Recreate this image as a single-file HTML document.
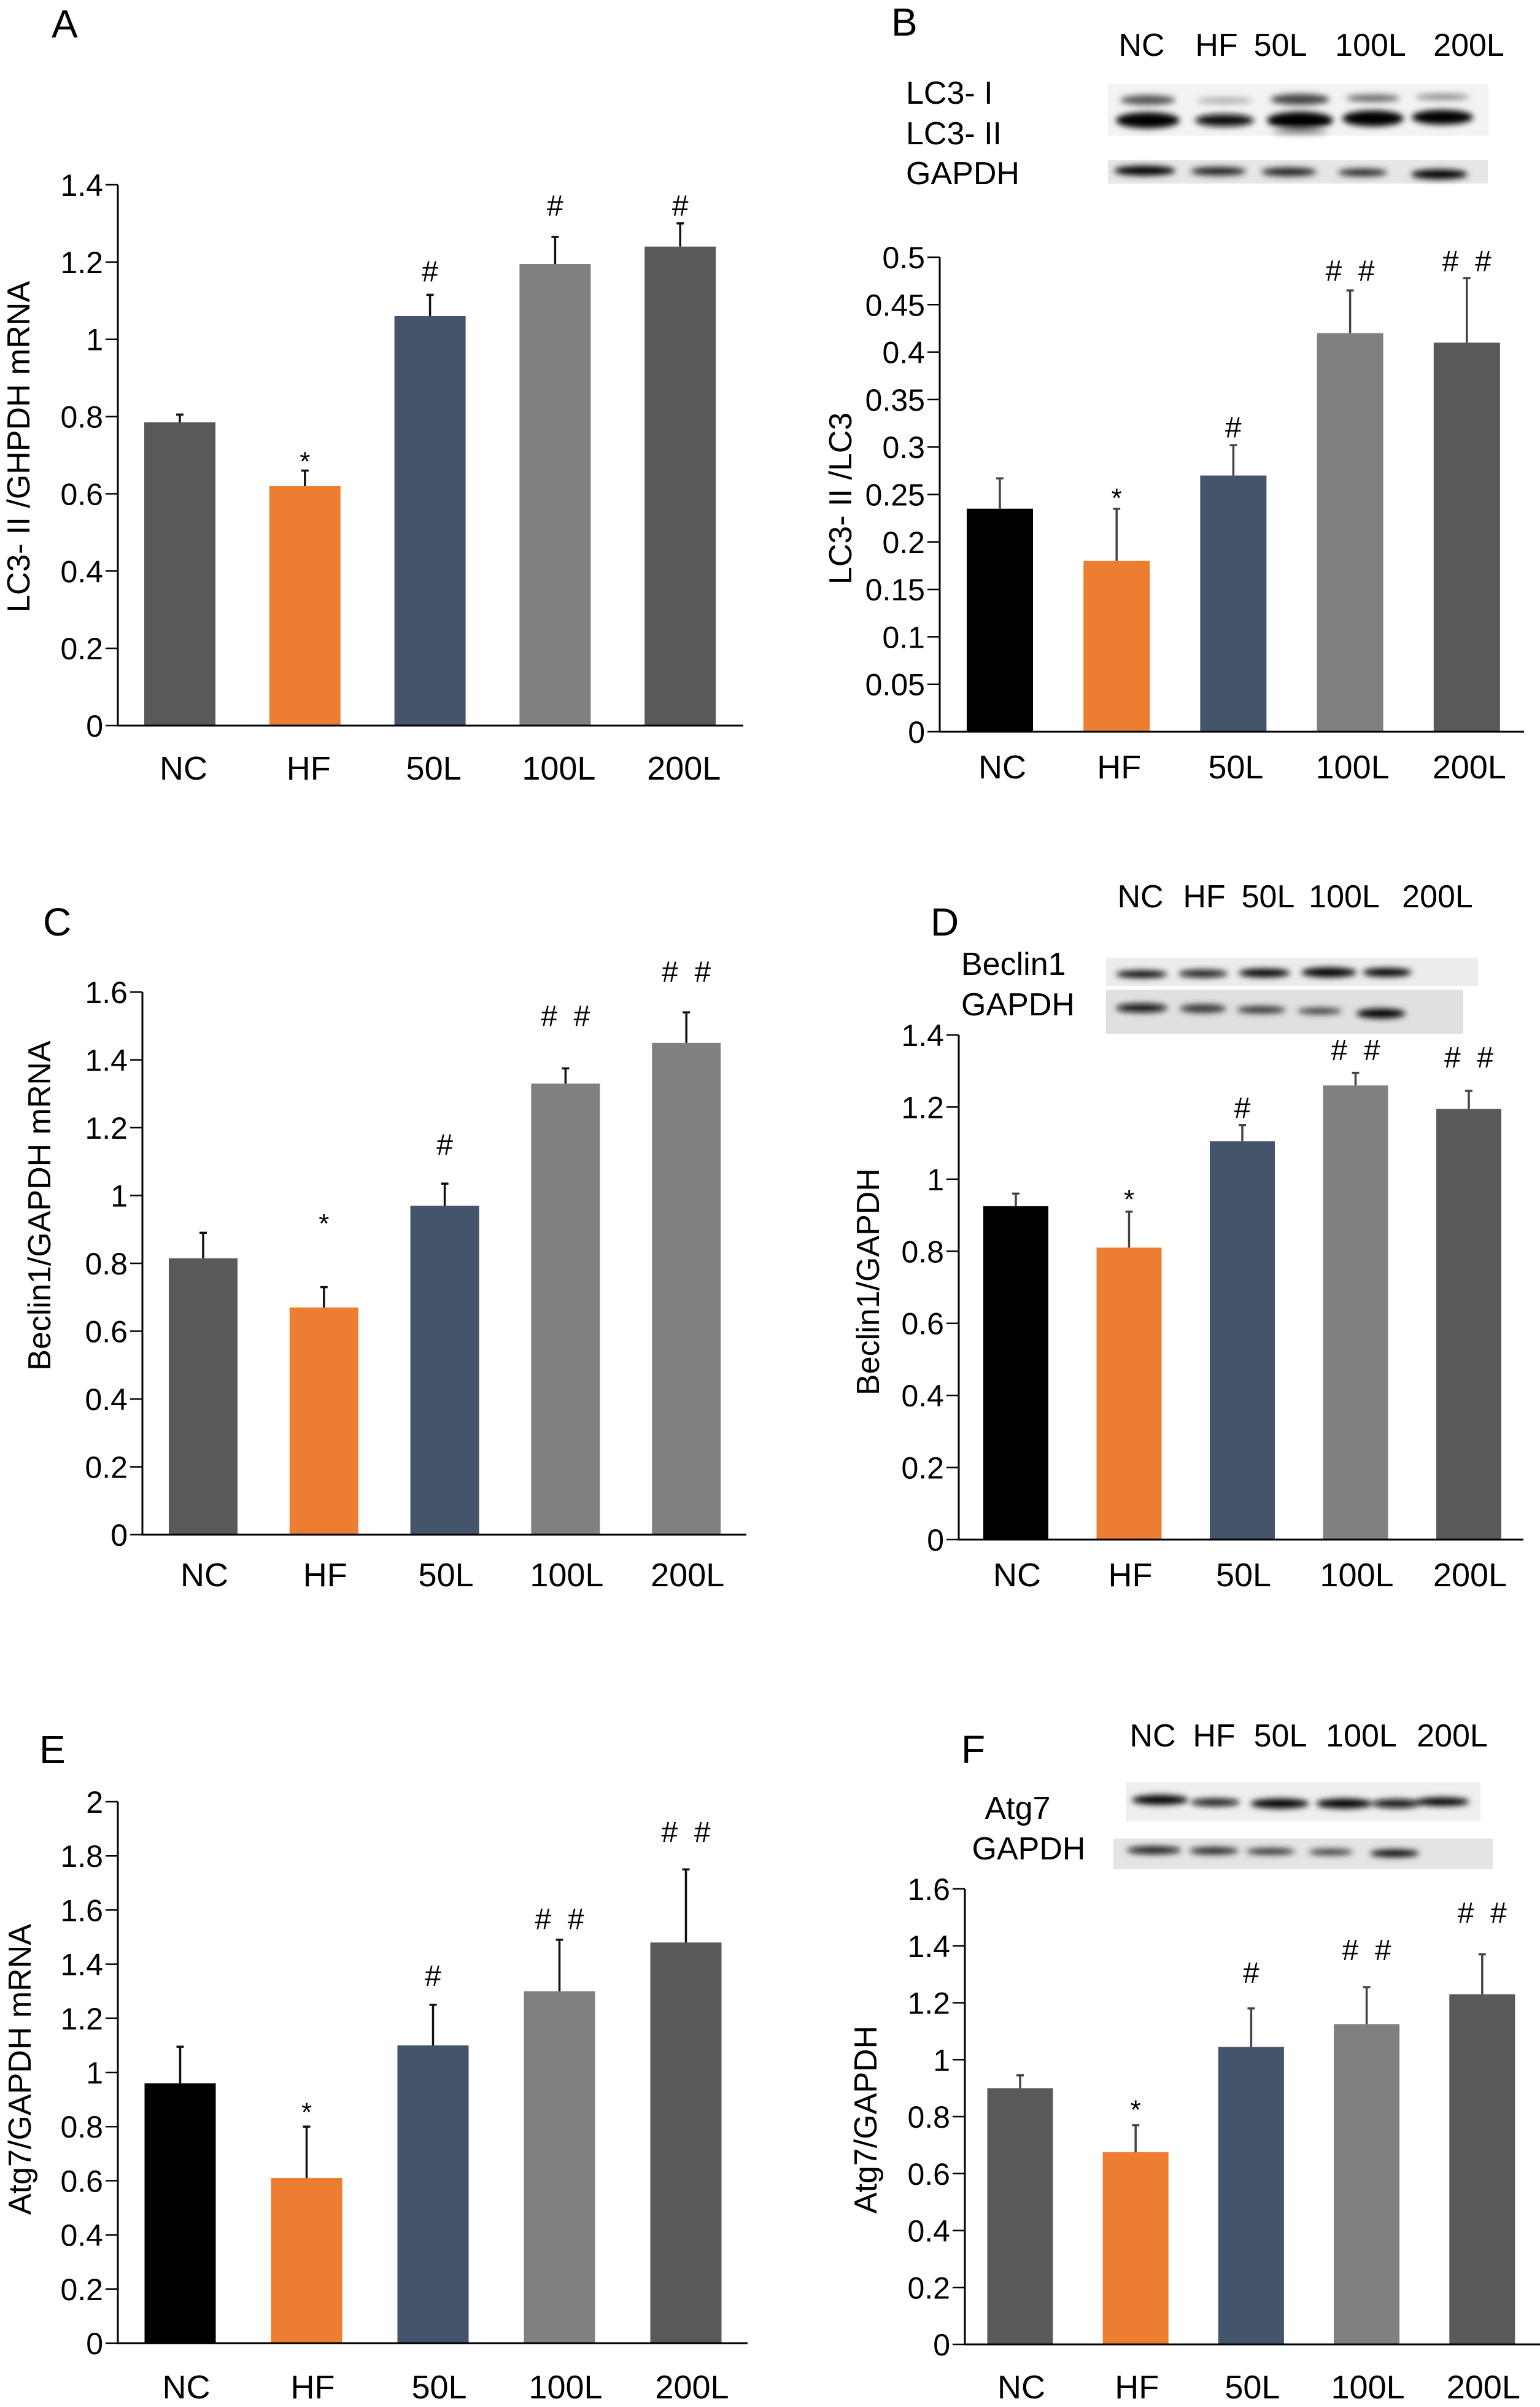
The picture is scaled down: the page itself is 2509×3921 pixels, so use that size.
<!DOCTYPE html>
<html><head><meta charset="utf-8">
<style>
html,body{margin:0;padding:0;background:#fff;}
svg{display:block;}
text{font-family:"Liberation Sans",Arial,sans-serif;}
</style></head>
<body>
<svg id="fig" width="2509" height="3921" viewBox="0 0 2509 3921" xmlns="http://www.w3.org/2000/svg">
<defs>
<filter id="blur" x="-20%" y="-100%" width="140%" height="300%"><feGaussianBlur stdDeviation="5"/></filter>
</defs>
<g id="blots">
  <rect x="1805" y="137" width="620" height="84" fill="#f3f3f3"/>
  <g filter="url(#blur)">
    <ellipse cx="1870" cy="163" rx="45" ry="8" fill="#555"/>
    <ellipse cx="1995" cy="164" rx="45" ry="5" fill="#aaa"/>
    <ellipse cx="2118" cy="162" rx="48" ry="9" fill="#444"/>
    <ellipse cx="2237" cy="160" rx="44" ry="6" fill="#666"/>
    <ellipse cx="2350" cy="158" rx="44" ry="5" fill="#888"/>
    <ellipse cx="1870" cy="196" rx="52" ry="13" fill="#000"/>
    <ellipse cx="1995" cy="196" rx="48" ry="10" fill="#111"/>
    <ellipse cx="2118" cy="196" rx="54" ry="14" fill="#000"/>
    <ellipse cx="2237" cy="193" rx="50" ry="13" fill="#000"/>
    <ellipse cx="2350" cy="191" rx="50" ry="12" fill="#000"/>
    <ellipse cx="2118" cy="215" rx="45" ry="4" fill="#888"/>
  </g>
  <rect x="1805" y="261" width="619" height="38" fill="#e6e6e6"/>
  <g filter="url(#blur)">
    <ellipse cx="1865" cy="278" rx="50" ry="8" fill="#000"/>
    <ellipse cx="1985" cy="279" rx="45" ry="7" fill="#222"/>
    <ellipse cx="2100" cy="280" rx="45" ry="7" fill="#222"/>
    <ellipse cx="2220" cy="281" rx="40" ry="6" fill="#222"/>
    <ellipse cx="2345" cy="284" rx="46" ry="8" fill="#000"/>
  </g>
  <rect x="1802" y="1560" width="606" height="46" fill="#ececec"/>
  <g filter="url(#blur)">
    <ellipse cx="1860" cy="1587" rx="42" ry="6" fill="#000"/>
    <ellipse cx="1960" cy="1586" rx="40" ry="6" fill="#111"/>
    <ellipse cx="2060" cy="1585" rx="42" ry="7" fill="#000"/>
    <ellipse cx="2165" cy="1584" rx="45" ry="8" fill="#000"/>
    <ellipse cx="2260" cy="1584" rx="40" ry="7" fill="#000"/>
  </g>
  <rect x="1802" y="1612" width="582" height="72" fill="#e0e0e0"/>
  <g filter="url(#blur)">
    <ellipse cx="1860" cy="1642" rx="42" ry="7" fill="#111"/>
    <ellipse cx="1960" cy="1643" rx="38" ry="7" fill="#333"/>
    <ellipse cx="2055" cy="1645" rx="40" ry="6" fill="#333"/>
    <ellipse cx="2150" cy="1647" rx="36" ry="5" fill="#333"/>
    <ellipse cx="2250" cy="1651" rx="40" ry="8" fill="#000"/>
  </g>
  <rect x="1834" y="2903" width="578" height="64" fill="#efefef"/>
  <g filter="url(#blur)">
    <ellipse cx="1890" cy="2932" rx="46" ry="8" fill="#000"/>
    <ellipse cx="1980" cy="2936" rx="40" ry="6" fill="#111"/>
    <ellipse cx="2085" cy="2938" rx="48" ry="8" fill="#000"/>
    <ellipse cx="2190" cy="2938" rx="46" ry="8" fill="#000"/>
    <ellipse cx="2350" cy="2935" rx="44" ry="7" fill="#000"/>
    <ellipse cx="2275" cy="2938" rx="40" ry="7" fill="#111"/>
  </g>
  <rect x="1814" y="2995" width="618" height="50" fill="#e4e4e4"/>
  <g filter="url(#blur)">
    <ellipse cx="1880" cy="3014" rx="44" ry="6" fill="#111"/>
    <ellipse cx="1978" cy="3015" rx="40" ry="6" fill="#222"/>
    <ellipse cx="2070" cy="3016" rx="40" ry="5" fill="#222"/>
    <ellipse cx="2168" cy="3017" rx="36" ry="5" fill="#333"/>
    <ellipse cx="2272" cy="3019" rx="40" ry="6" fill="#000"/>
  </g>
</g>
</svg>
<script>
var categories = ["NC","HF","50L","100L","200L"];

var valuesA = [0.785, 0.62, 1.06, 1.195, 1.24];
var errA    = [0.805, 0.66, 1.115, 1.265, 1.30];
var annA    = ["", "*", "#", "#", "#"];
var annLevA = [0, 0.695, 1.15, 1.32, 1.32];
var ticksA  = [0,0.2,0.4,0.6,0.8,1,1.2,1.4];

var valuesB = [0.235, 0.18, 0.27, 0.42, 0.41];
var errB    = [0.267, 0.235, 0.302, 0.465, 0.478];
var annB    = ["", "*", "#", "# #", "# #"];
var annLevB = [0, 0.251, 0.31, 0.475, 0.485];
var ticksB  = [0,0.05,0.1,0.15,0.2,0.25,0.3,0.35,0.4,0.45,0.5];

var valuesC = [0.815, 0.67, 0.97, 1.33, 1.45];
var errC    = [0.89, 0.73, 1.035, 1.375, 1.54];
var annC    = ["", "*", "#", "# #", "# #"];
var annLevC = [0, 0.93, 1.12, 1.5, 1.63];
var ticksC  = [0,0.2,0.4,0.6,0.8,1,1.2,1.4,1.6];

var valuesD = [0.925, 0.81, 1.105, 1.26, 1.195];
var errD    = [0.96, 0.91, 1.15, 1.295, 1.245];
var annD    = ["", "*", "#", "# #", "# #"];
var annLevD = [0, 0.956, 1.17, 1.33, 1.31];
var ticksD  = [0,0.2,0.4,0.6,0.8,1,1.2,1.4];

var valuesE = [0.96, 0.61, 1.10, 1.30, 1.48];
var errE    = [1.095, 0.80, 1.25, 1.49, 1.75];
var annE    = ["", "*", "#", "# #", "# #"];
var annLevE = [0, 0.87, 1.32, 1.53, 1.85];
var ticksE  = [0,0.2,0.4,0.6,0.8,1,1.2,1.4,1.6,1.8,2];

var valuesF = [0.90, 0.675, 1.045, 1.125, 1.23];
var errF    = [0.945, 0.77, 1.18, 1.255, 1.37];
var annF    = ["", "*", "#", "# #", "# #"];
var annLevF = [0, 0.84, 1.27, 1.35, 1.48];
var ticksF  = [0,0.2,0.4,0.6,0.8,1,1.2,1.4,1.6];

var NS = "http://www.w3.org/2000/svg";
var svg = document.getElementById("fig");
function mk(tag, attrs, parent){
  var e = document.createElementNS(NS, tag);
  for (var k in attrs) e.setAttribute(k, attrs[k]);
  (parent||svg).appendChild(e);
  return e;
}

function panel(p){
  var g = mk("g", {});
  
  
  var vmax = p.ticks[p.ticks.length-1];
  function ys(v){ return p.y0 - (v / vmax) * (p.y0 - p.yTop); }
  function xs(i){ return p.xFirst + i * p.step; }

  var L = mk("text", {x:p.letter[0], y:p.letter[1], "font-size":64, fill:"#000"}, g);
  
  
  L.textContent = p.id;

  for (var i=0;i<p.values.length;i++){
    var cx = xs(i);
    var r = mk("rect", {x:cx-p.bw/2, y:ys(p.values[i]), width:p.bw, height:p.y0-ys(p.values[i]), fill:p.colors[i]}, g);
    
    
    var eb = mk("path", {d:"M"+cx+" "+ys(p.values[i])+" V"+ys(p.err[i])+" M"+(cx-6)+" "+ys(p.err[i])+" H"+(cx+6), stroke:p.errColor, "stroke-width":3.5, fill:"none"}, g);
    
    
    if (p.ann[i]){
      var isStar = p.ann[i] === "*";
      var a = mk("text", {x:cx, y:ys(p.annLev[i]) + (isStar?22:0), "text-anchor":"middle", "font-size":isStar?44:48, fill:"#000"}, g);
      
      
      a.textContent = p.ann[i].replace(" ", "\u00a0\u00a0");
    }
    var xl = mk("text", {x:cx+p.lblDx, y:p.y0+p.lblDy, "text-anchor":"middle", "font-size":54, fill:"#000"}, g);
    
    
    xl.textContent = categories[i];
  }

  var ax = mk("path", {d:"M"+p.x0+" "+p.yTop+" V"+p.y0+" H"+p.xEnd, stroke:"#000", "stroke-width":3, fill:"none"}, g);
  
  
  for (var t=0;t<p.ticks.length;t++){
    var y = ys(p.ticks[t]);
    var tk = mk("line", {x1:p.x0-20, x2:p.x0, y1:y, y2:y, stroke:"#000", "stroke-width":2.5}, g);
    
    
    var tl = mk("text", {x:p.x0-24, y:y+18, "text-anchor":"end", "font-size":50, fill:"#000"}, g);
    
    
    tl.textContent = String(parseFloat(p.ticks[t].toFixed(2)));
  }
  var yt = mk("text", {x:0, y:0, transform:"translate("+(p.yTitle[0]+18)+","+p.yTitle[1]+") rotate(-90)", "text-anchor":"middle", "font-size":52, fill:"#000"}, g);
  
  
  yt.textContent = p.title;
}

var black="#000000", orange="#ED7D31", navy="#44546A", gray="#808080", dgray="#595959";

panel({id:"A", values:valuesA, err:errA, ann:annA, annLev:annLevA, ticks:ticksA,
  x0:192, y0:1182, yTop:301, xEnd:1211, xFirst:293, step:203.8, bw:116,
  colors:[dgray,orange,navy,gray,dgray], errColor:"#111",
  letter:[84,61], yTitle:[30,728], title:"LC3- II /GHPDH mRNA", lblDx:6, lblDy:88});

panel({id:"B", values:valuesB, err:errB, ann:annB, annLev:annLevB, ticks:ticksB,
  x0:1531, y0:1192, yTop:419, xEnd:2483, xFirst:1629, step:190.2, bw:108,
  colors:[black,orange,navy,gray,dgray], errColor:"#444",
  letter:[1452,58], yTitle:[1369,812], title:"LC3- II /LC3", lblDx:4, lblDy:76});

panel({id:"C", values:valuesC, err:errC, ann:annC, annLev:annLevC, ticks:ticksC,
  x0:232, y0:2500, yTop:1616, xEnd:1216, xFirst:331, step:196.8, bw:112,
  colors:[dgray,orange,navy,gray,gray], errColor:"#111",
  letter:[70,1524], yTitle:[64,1964], title:"Beclin1/GAPDH mRNA", lblDx:2, lblDy:84});

panel({id:"D", values:valuesD, err:errD, ann:annD, annLev:annLevD, ticks:ticksD,
  x0:1562, y0:2508, yTop:1686, xEnd:2482, xFirst:1655, step:184.5, bw:106,
  colors:[black,orange,navy,gray,dgray], errColor:"#444",
  letter:[1516,1524], yTitle:[1414,2088], title:"Beclin1/GAPDH", lblDx:2, lblDy:76});

panel({id:"E", values:valuesE, err:errE, ann:annE, annLev:annLevE, ticks:ticksE,
  x0:192, y0:3817, yTop:2935, xEnd:1218, xFirst:293.5, step:206, bw:116,
  colors:[black,orange,navy,gray,dgray], errColor:"#111",
  letter:[64,2872], yTitle:[32,3371], title:"Atg7/GAPDH mRNA", lblDx:10, lblDy:90});

panel({id:"F", values:valuesF, err:errF, ann:annF, annLev:annLevF, ticks:ticksF,
  x0:1572, y0:3819, yTop:3077, xEnd:2509, xFirst:1662, step:188.2, bw:107,
  colors:[dgray,orange,navy,gray,dgray], errColor:"#444",
  letter:[1566,2872], yTitle:[1410,3453], title:"Atg7/GAPDH", lblDx:2, lblDy:88});

function lbl(txt, x, y, anchor, name){
  var t = mk("text", {x:x, y:y, "text-anchor":anchor, "font-size":52, fill:"#000"});
  
  
  t.textContent = txt;
}
var hdrB = [1860,1982,2086,2233,2393], hdrD=[1858,1962,2066,2190,2342], hdrF=[1878,1978,2086,2218,2366];
for (var i=0;i<5;i++){
  lbl(categories[i], hdrB[i], 91, "middle", "blot-lane-label-b");
  lbl(categories[i], hdrD[i], 1478, "middle", "blot-lane-label-d");
  lbl(categories[i], hdrF[i], 2845, "middle", "blot-lane-label-f");
}
lbl("LC3- I", 1476, 169, "start", "blot-row-label-lc3-i");
lbl("LC3- II", 1476, 235, "start", "blot-row-label-lc3-ii");
lbl("GAPDH", 1476, 300, "start", "blot-row-label-gapdh-b");
lbl("Beclin1", 1566, 1588, "start", "blot-row-label-beclin1");
lbl("GAPDH", 1566, 1654, "start", "blot-row-label-gapdh-d");
lbl("Atg7", 1658, 2963, "middle", "blot-row-label-atg7");
lbl("GAPDH", 1676, 3029, "middle", "blot-row-label-gapdh-f");
</script>
</body></html>
